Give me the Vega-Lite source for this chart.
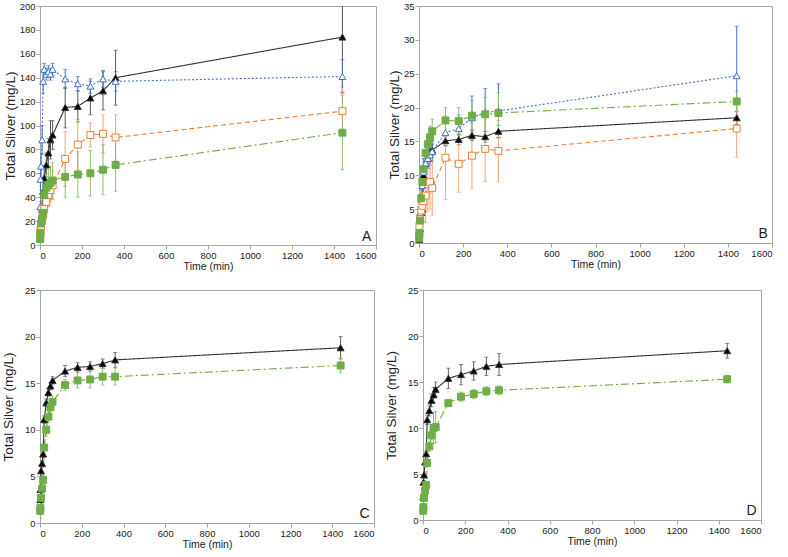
{
"$schema": "https://vega.github.io/schema/vega-lite/v6.json",
"padding": {"left": 0, "top": 0, "right": 0, "bottom": 0},
"background": "white",
"datasets": {
"d": [
{"p":"A","s":"k","t":1,"v":6,"e":3},{"p":"A","s":"k","t":2,"v":12,"e":4},{"p":"A","s":"k","t":5,"v":20,"e":5},{"p":"A","s":"k","t":10,"v":30,"e":6},{"p":"A","s":"k","t":15,"v":45,"e":8},{"p":"A","s":"k","t":20,"v":56,"e":10},{"p":"A","s":"k","t":30,"v":67,"e":10},{"p":"A","s":"k","t":40,"v":77,"e":12},{"p":"A","s":"k","t":50,"v":88,"e":16},{"p":"A","s":"k","t":60,"v":92,"e":12},{"p":"A","s":"k","t":120,"v":115,"e":17},{"p":"A","s":"k","t":180,"v":116,"e":13},{"p":"A","s":"k","t":240,"v":123,"e":14},{"p":"A","s":"k","t":300,"v":129,"e":16},{"p":"A","s":"k","t":360,"v":140,"e":23},{"p":"A","s":"k","t":1440,"v":174,"e":46},
{"p":"A","s":"b","t":1,"v":32,"e":8},{"p":"A","s":"b","t":2,"v":55,"e":10},{"p":"A","s":"b","t":5,"v":66,"e":10},{"p":"A","s":"b","t":10,"v":88,"e":12},{"p":"A","s":"b","t":15,"v":137,"e":10},{"p":"A","s":"b","t":20,"v":147,"e":5},{"p":"A","s":"b","t":30,"v":143,"e":5},{"p":"A","s":"b","t":40,"v":145,"e":5},{"p":"A","s":"b","t":50,"v":143,"e":5},{"p":"A","s":"b","t":60,"v":147,"e":5},{"p":"A","s":"b","t":120,"v":139,"e":8},{"p":"A","s":"b","t":180,"v":135,"e":6},{"p":"A","s":"b","t":240,"v":133,"e":6},{"p":"A","s":"b","t":300,"v":139,"e":7},{"p":"A","s":"b","t":360,"v":137,"e":8},{"p":"A","s":"b","t":1440,"v":141,"e":14},
{"p":"A","s":"o","t":1,"v":8,"e":4},{"p":"A","s":"o","t":2,"v":12,"e":5},{"p":"A","s":"o","t":5,"v":16,"e":6},{"p":"A","s":"o","t":10,"v":20,"e":8},{"p":"A","s":"o","t":15,"v":25,"e":8},{"p":"A","s":"o","t":20,"v":30,"e":8},{"p":"A","s":"o","t":30,"v":36,"e":9},{"p":"A","s":"o","t":40,"v":42,"e":10},{"p":"A","s":"o","t":50,"v":46,"e":10},{"p":"A","s":"o","t":60,"v":50,"e":12},{"p":"A","s":"o","t":120,"v":72,"e":23},{"p":"A","s":"o","t":180,"v":84,"e":21},{"p":"A","s":"o","t":240,"v":92,"e":10},{"p":"A","s":"o","t":300,"v":93,"e":16},{"p":"A","s":"o","t":360,"v":90,"e":19},{"p":"A","s":"o","t":1440,"v":112,"e":20},
{"p":"A","s":"g","t":1,"v":5,"e":2},{"p":"A","s":"g","t":2,"v":10,"e":3},{"p":"A","s":"g","t":5,"v":18,"e":4},{"p":"A","s":"g","t":10,"v":22,"e":5},{"p":"A","s":"g","t":15,"v":27,"e":6},{"p":"A","s":"g","t":20,"v":42,"e":10},{"p":"A","s":"g","t":30,"v":48,"e":12},{"p":"A","s":"g","t":40,"v":50,"e":13},{"p":"A","s":"g","t":50,"v":52,"e":14},{"p":"A","s":"g","t":60,"v":54,"e":15},{"p":"A","s":"g","t":120,"v":57,"e":17},{"p":"A","s":"g","t":180,"v":59,"e":19},{"p":"A","s":"g","t":240,"v":60,"e":19},{"p":"A","s":"g","t":300,"v":63,"e":21},{"p":"A","s":"g","t":360,"v":67,"e":22},{"p":"A","s":"g","t":1440,"v":94,"e":31},
{"p":"B","s":"k","t":1,"v":0.5,"e":0.2},{"p":"B","s":"k","t":2,"v":1.2,"e":0.3},{"p":"B","s":"k","t":5,"v":2.1,"e":0.5},{"p":"B","s":"k","t":10,"v":4.5,"e":0.5},{"p":"B","s":"k","t":15,"v":5.0,"e":0.5},{"p":"B","s":"k","t":20,"v":10.0,"e":0.6},{"p":"B","s":"k","t":30,"v":11.7,"e":0.7},{"p":"B","s":"k","t":40,"v":12.5,"e":0.7},{"p":"B","s":"k","t":50,"v":13.5,"e":0.8},{"p":"B","s":"k","t":60,"v":13.7,"e":0.8},{"p":"B","s":"k","t":120,"v":15.1,"e":0.7},{"p":"B","s":"k","t":180,"v":15.3,"e":0.8},{"p":"B","s":"k","t":240,"v":15.9,"e":0.8},{"p":"B","s":"k","t":300,"v":15.7,"e":0.8},{"p":"B","s":"k","t":360,"v":16.5,"e":0.9},{"p":"B","s":"k","t":1440,"v":18.5,"e":1.0},
{"p":"B","s":"b","t":1,"v":1.2,"e":0.5},{"p":"B","s":"b","t":2,"v":2.5,"e":1},{"p":"B","s":"b","t":5,"v":4.5,"e":1.5},{"p":"B","s":"b","t":10,"v":6.5,"e":1.5},{"p":"B","s":"b","t":15,"v":8.5,"e":2},{"p":"B","s":"b","t":20,"v":10.5,"e":2},{"p":"B","s":"b","t":30,"v":11.8,"e":1.5},{"p":"B","s":"b","t":40,"v":12.5,"e":1.5},{"p":"B","s":"b","t":50,"v":13.0,"e":1.5},{"p":"B","s":"b","t":60,"v":13.5,"e":1.5},{"p":"B","s":"b","t":120,"v":16.3,"e":2},{"p":"B","s":"b","t":180,"v":16.9,"e":2},{"p":"B","s":"b","t":240,"v":18.5,"e":3.2},{"p":"B","s":"b","t":300,"v":19.3,"e":3.5},{"p":"B","s":"b","t":360,"v":19.5,"e":4},{"p":"B","s":"b","t":1440,"v":24.7,"e":7.3},
{"p":"B","s":"o","t":1,"v":1.2,"e":1},{"p":"B","s":"o","t":2,"v":2.5,"e":1.5},{"p":"B","s":"o","t":5,"v":3.5,"e":2},{"p":"B","s":"o","t":10,"v":4.8,"e":3},{"p":"B","s":"o","t":15,"v":5.5,"e":3},{"p":"B","s":"o","t":20,"v":6.2,"e":3},{"p":"B","s":"o","t":30,"v":7.0,"e":4},{"p":"B","s":"o","t":40,"v":8.7,"e":4},{"p":"B","s":"o","t":50,"v":9.0,"e":4},{"p":"B","s":"o","t":60,"v":8.1,"e":4},{"p":"B","s":"o","t":120,"v":12.6,"e":6.2},{"p":"B","s":"o","t":180,"v":11.7,"e":4.2},{"p":"B","s":"o","t":240,"v":12.9,"e":4.9},{"p":"B","s":"o","t":300,"v":13.9,"e":4.8},{"p":"B","s":"o","t":360,"v":13.6,"e":4.5},{"p":"B","s":"o","t":1440,"v":16.9,"e":4.2},
{"p":"B","s":"g","t":1,"v":0.7,"e":0.3},{"p":"B","s":"g","t":2,"v":1.5,"e":0.5},{"p":"B","s":"g","t":5,"v":3.3,"e":0.5},{"p":"B","s":"g","t":10,"v":6.6,"e":0.8},{"p":"B","s":"g","t":15,"v":9.0,"e":1},{"p":"B","s":"g","t":20,"v":10.9,"e":1},{"p":"B","s":"g","t":30,"v":13.3,"e":1.2},{"p":"B","s":"g","t":40,"v":14.6,"e":1.5},{"p":"B","s":"g","t":50,"v":15.6,"e":1.7},{"p":"B","s":"g","t":60,"v":16.5,"e":1.8},{"p":"B","s":"g","t":120,"v":18.1,"e":1.9},{"p":"B","s":"g","t":180,"v":18.0,"e":2.0},{"p":"B","s":"g","t":240,"v":18.8,"e":2.2},{"p":"B","s":"g","t":300,"v":19.0,"e":2.5},{"p":"B","s":"g","t":360,"v":19.2,"e":3},{"p":"B","s":"g","t":1440,"v":20.9,"e":1.5},
{"p":"C","s":"k","t":1,"v":2.5,"e":0.2},{"p":"C","s":"k","t":2,"v":3.6,"e":0.2},{"p":"C","s":"k","t":5,"v":5.6,"e":0.3},{"p":"C","s":"k","t":10,"v":6.4,"e":0.3},{"p":"C","s":"k","t":15,"v":7.4,"e":0.3},{"p":"C","s":"k","t":20,"v":11.1,"e":0.4},{"p":"C","s":"k","t":30,"v":12.9,"e":0.4},{"p":"C","s":"k","t":40,"v":14.0,"e":0.4},{"p":"C","s":"k","t":50,"v":14.7,"e":0.4},{"p":"C","s":"k","t":60,"v":15.3,"e":0.4},{"p":"C","s":"k","t":120,"v":16.3,"e":0.6},{"p":"C","s":"k","t":180,"v":16.7,"e":0.5},{"p":"C","s":"k","t":240,"v":16.8,"e":0.5},{"p":"C","s":"k","t":300,"v":17.1,"e":0.5},{"p":"C","s":"k","t":360,"v":17.5,"e":0.8},{"p":"C","s":"k","t":1440,"v":18.8,"e":1.2},
{"p":"C","s":"g","t":1,"v":1.3,"e":0.8},{"p":"C","s":"g","t":2,"v":1.6,"e":0.5},{"p":"C","s":"g","t":5,"v":2.7,"e":0.5},{"p":"C","s":"g","t":10,"v":3.7,"e":0.5},{"p":"C","s":"g","t":15,"v":4.6,"e":0.5},{"p":"C","s":"g","t":20,"v":8.1,"e":0.6},{"p":"C","s":"g","t":30,"v":10.0,"e":0.7},{"p":"C","s":"g","t":40,"v":11.4,"e":0.6},{"p":"C","s":"g","t":50,"v":12.4,"e":0.6},{"p":"C","s":"g","t":60,"v":13.0,"e":0.6},{"p":"C","s":"g","t":120,"v":14.8,"e":0.6},{"p":"C","s":"g","t":180,"v":15.3,"e":0.8},{"p":"C","s":"g","t":240,"v":15.4,"e":0.9},{"p":"C","s":"g","t":300,"v":15.7,"e":0.9},{"p":"C","s":"g","t":360,"v":15.7,"e":0.9},{"p":"C","s":"g","t":1440,"v":16.9,"e":0.8},
{"p":"D","s":"k","t":1,"v":2.5,"e":0.2},{"p":"D","s":"k","t":2,"v":4.1,"e":0.2},{"p":"D","s":"k","t":5,"v":4.9,"e":0.3},{"p":"D","s":"k","t":10,"v":6.3,"e":0.3},{"p":"D","s":"k","t":15,"v":7.2,"e":0.3},{"p":"D","s":"k","t":20,"v":10.9,"e":0.5},{"p":"D","s":"k","t":30,"v":11.9,"e":0.6},{"p":"D","s":"k","t":40,"v":13.0,"e":0.7},{"p":"D","s":"k","t":50,"v":13.6,"e":0.8},{"p":"D","s":"k","t":60,"v":14.2,"e":0.8},{"p":"D","s":"k","t":120,"v":15.4,"e":1.1},{"p":"D","s":"k","t":180,"v":15.8,"e":1.1},{"p":"D","s":"k","t":240,"v":16.2,"e":1.0},{"p":"D","s":"k","t":300,"v":16.7,"e":1.0},{"p":"D","s":"k","t":360,"v":16.9,"e":1.2},{"p":"D","s":"k","t":1440,"v":18.4,"e":0.8},
{"p":"D","s":"g","t":1,"v":1.0,"e":0.3},{"p":"D","s":"g","t":2,"v":1.4,"e":0.3},{"p":"D","s":"g","t":5,"v":2.4,"e":0.3},{"p":"D","s":"g","t":10,"v":3.2,"e":0.3},{"p":"D","s":"g","t":15,"v":3.8,"e":0.3},{"p":"D","s":"g","t":20,"v":6.2,"e":0.4},{"p":"D","s":"g","t":30,"v":8.0,"e":0.5},{"p":"D","s":"g","t":40,"v":9.2,"e":0.5},{"p":"D","s":"g","t":50,"v":10.0,"e":1.7},{"p":"D","s":"g","t":60,"v":10.1,"e":1.7},{"p":"D","s":"g","t":120,"v":12.7,"e":0.3},{"p":"D","s":"g","t":180,"v":13.4,"e":0.5},{"p":"D","s":"g","t":240,"v":13.7,"e":0.5},{"p":"D","s":"g","t":300,"v":14.0,"e":0.5},{"p":"D","s":"g","t":360,"v":14.1,"e":0.5},{"p":"D","s":"g","t":1440,"v":15.3,"e":0.4}
],
"lab": [
{"p":"A","t":1555,"v":3.3,"L":"A"},{"p":"B","t":1560,"v":0.7,"L":"B"},{"p":"C","t":1555,"v":0.55,"L":"C"},{"p":"D","t":1555,"v":0.55,"L":"D"}
]
},
"config": {
"font": "Liberation Sans",
"view": {"stroke": "#a6a6a6", "strokeWidth": 1},
"axis": {"grid": false, "domainColor": "#a6a6a6", "tickColor": "#a6a6a6", "tickSize": 4, "labelColor": "#222222", "titleColor": "#222222", "labelFont": "Liberation Sans", "titleFont": "Liberation Sans", "labelFontSize": 9.5, "titleFontWeight": "normal", "labelPadding": 1},
"axisX": {"titlePadding": 2, "titleFontSize": 10.5, "format": "d"},
"axisY": {"titlePadding": 2, "titleFontSize": 13.5}
},
"vconcat": [
{"hconcat": [
{"width": 336, "height": 239, "layer": [
{"data": {"name": "d"}, "transform": [{"filter": "datum.p == 'A'"}], "mark": {"type": "errorbar", "ticks": {"size": 4}, "clip": true, "thickness": 1},
 "encoding": {"x": {"field": "t", "type": "quantitative", "scale": {"domain": [0,1600], "nice": false}, "axis": {"values": [0,200,400,600,800,1000,1200,1400,1600], "title": "Time (min)", "format": "d"}},
 "y": {"field": "v", "type": "quantitative", "scale": {"domain": [0,200], "nice": false}, "axis": {"values": [0,20,40,60,80,100,120,140,160,180,200], "title": "Total Silver (mg/L)", "titlePadding": 2}},
 "yError": {"field": "e"},
 "color": {"field": "s", "type": "nominal", "scale": {"domain": ["k","b","o","g"], "range": ["#595959","#4472C4","#F4A27A","#8DC06A"]}, "legend": null}}},
{"data": {"name": "d"}, "transform": [{"filter": "datum.p == 'A'"}], "mark": {"type": "line", "strokeWidth": 1.1},
 "encoding": {"x": {"field": "t", "type": "quantitative", "scale": {"domain": [0,1600], "nice": false}, "axis": {"values": [0,200,400,600,800,1000,1200,1400,1600], "title": "Time (min)", "format": "d"}},
 "y": {"field": "v", "type": "quantitative", "scale": {"domain": [0,200], "nice": false}, "axis": {"values": [0,20,40,60,80,100,120,140,160,180,200], "title": "Total Silver (mg/L)", "titlePadding": 2}},
 "detail": {"field": "s"},
 "stroke": {"field": "s", "type": "nominal", "scale": {"domain": ["k","b","o","g"], "range": ["#333333","#4472C4","#ED7D31","#70AD47"]}, "legend": null},
 "strokeDash": {"field": "s", "type": "nominal", "scale": {"domain": ["k","b","o","g"], "range": [[1,0],[2,2],[5,3],[8,3,2,3]]}, "legend": null}}},
{"data": {"name": "d"}, "transform": [{"filter": "datum.p == 'A'"}], "mark": {"type": "point", "filled": true, "size": 48, "strokeWidth": 1, "opacity": 1},
 "encoding": {"x": {"field": "t", "type": "quantitative", "scale": {"domain": [0,1600], "nice": false}, "axis": {"values": [0,200,400,600,800,1000,1200,1400,1600], "title": "Time (min)", "format": "d"}},
 "y": {"field": "v", "type": "quantitative", "scale": {"domain": [0,200], "nice": false}, "axis": {"values": [0,20,40,60,80,100,120,140,160,180,200], "title": "Total Silver (mg/L)", "titlePadding": 2}},
 "shape": {"field": "s", "type": "nominal", "scale": {"domain": ["k","b","o","g"], "range": ["triangle-up","triangle-up","square","square"]}, "legend": null},
 "fill": {"field": "s", "type": "nominal", "scale": {"domain": ["k","b","o","g"], "range": ["#000000","#ffffff","#ffffff","#70AD47"]}, "legend": null},
 "stroke": {"field": "s", "type": "nominal", "scale": {"domain": ["k","b","o","g"], "range": ["#333333","#4472C4","#ED7D31","#70AD47"]}, "legend": null}}},
{"data": {"name": "lab"}, "transform": [{"filter": "datum.p == 'A'"}], "mark": {"type": "text", "fontSize": 14, "align": "center", "baseline": "alphabetic", "color": "#222222"},
 "encoding": {"x": {"field": "t", "type": "quantitative", "scale": {"domain": [0,1600], "nice": false}, "axis": {"values": [0,200,400,600,800,1000,1200,1400,1600], "title": "Time (min)", "format": "d"}},
 "y": {"field": "v", "type": "quantitative", "scale": {"domain": [0,200], "nice": false}, "axis": {"values": [0,20,40,60,80,100,120,140,160,180,200], "title": "Total Silver (mg/L)", "titlePadding": 2}},
 "text": {"field": "L"}}}
]},
{"width": 353, "height": 237, "layer": [
{"data": {"name": "d"}, "transform": [{"filter": "datum.p == 'B'"}], "mark": {"type": "errorbar", "ticks": {"size": 4}, "clip": true, "thickness": 1},
 "encoding": {"x": {"field": "t", "type": "quantitative", "scale": {"domain": [0,1600], "nice": false}, "axis": {"values": [0,200,400,600,800,1000,1200,1400,1600], "title": "Time (min)", "format": "d"}},
 "y": {"field": "v", "type": "quantitative", "scale": {"domain": [0,35], "nice": false}, "axis": {"values": [0,5,10,15,20,25,30,35], "title": "Total Silver (mg/L)", "titlePadding": 2}},
 "yError": {"field": "e"},
 "color": {"field": "s", "type": "nominal", "scale": {"domain": ["k","b","o","g"], "range": ["#595959","#4472C4","#F4A27A","#8DC06A"]}, "legend": null}}},
{"data": {"name": "d"}, "transform": [{"filter": "datum.p == 'B'"}], "mark": {"type": "line", "strokeWidth": 1.1},
 "encoding": {"x": {"field": "t", "type": "quantitative", "scale": {"domain": [0,1600], "nice": false}, "axis": {"values": [0,200,400,600,800,1000,1200,1400,1600], "title": "Time (min)", "format": "d"}},
 "y": {"field": "v", "type": "quantitative", "scale": {"domain": [0,35], "nice": false}, "axis": {"values": [0,5,10,15,20,25,30,35], "title": "Total Silver (mg/L)", "titlePadding": 2}},
 "detail": {"field": "s"},
 "stroke": {"field": "s", "type": "nominal", "scale": {"domain": ["k","b","o","g"], "range": ["#333333","#4472C4","#ED7D31","#70AD47"]}, "legend": null},
 "strokeDash": {"field": "s", "type": "nominal", "scale": {"domain": ["k","b","o","g"], "range": [[1,0],[2,2],[5,3],[8,3,2,3]]}, "legend": null}}},
{"data": {"name": "d"}, "transform": [{"filter": "datum.p == 'B'"}], "mark": {"type": "point", "filled": true, "size": 48, "strokeWidth": 1, "opacity": 1},
 "encoding": {"x": {"field": "t", "type": "quantitative", "scale": {"domain": [0,1600], "nice": false}, "axis": {"values": [0,200,400,600,800,1000,1200,1400,1600], "title": "Time (min)", "format": "d"}},
 "y": {"field": "v", "type": "quantitative", "scale": {"domain": [0,35], "nice": false}, "axis": {"values": [0,5,10,15,20,25,30,35], "title": "Total Silver (mg/L)", "titlePadding": 2}},
 "shape": {"field": "s", "type": "nominal", "scale": {"domain": ["k","b","o","g"], "range": ["triangle-up","triangle-up","square","square"]}, "legend": null},
 "fill": {"field": "s", "type": "nominal", "scale": {"domain": ["k","b","o","g"], "range": ["#000000","#ffffff","#ffffff","#70AD47"]}, "legend": null},
 "stroke": {"field": "s", "type": "nominal", "scale": {"domain": ["k","b","o","g"], "range": ["#333333","#4472C4","#ED7D31","#70AD47"]}, "legend": null}}},
{"data": {"name": "lab"}, "transform": [{"filter": "datum.p == 'B'"}], "mark": {"type": "text", "fontSize": 14, "align": "center", "baseline": "alphabetic", "color": "#222222"},
 "encoding": {"x": {"field": "t", "type": "quantitative", "scale": {"domain": [0,1600], "nice": false}, "axis": {"values": [0,200,400,600,800,1000,1200,1400,1600], "title": "Time (min)", "format": "d"}},
 "y": {"field": "v", "type": "quantitative", "scale": {"domain": [0,35], "nice": false}, "axis": {"values": [0,5,10,15,20,25,30,35], "title": "Total Silver (mg/L)", "titlePadding": 2}},
 "text": {"field": "L"}}}
]}
], "spacing": 9},
{"hconcat": [
{"width": 334, "height": 233, "layer": [
{"data": {"name": "d"}, "transform": [{"filter": "datum.p == 'C'"}], "mark": {"type": "errorbar", "ticks": {"size": 4}, "clip": true, "thickness": 1},
 "encoding": {"x": {"field": "t", "type": "quantitative", "scale": {"domain": [0,1600], "nice": false}, "axis": {"values": [0,200,400,600,800,1000,1200,1400,1600], "title": "Time (min)", "format": "d"}},
 "y": {"field": "v", "type": "quantitative", "scale": {"domain": [0,25], "nice": false}, "axis": {"values": [0,5,10,15,20,25], "title": "Total Silver (mg/L)", "titlePadding": 9}},
 "yError": {"field": "e"},
 "color": {"field": "s", "type": "nominal", "scale": {"domain": ["k","b","o","g"], "range": ["#595959","#4472C4","#F4A27A","#8DC06A"]}, "legend": null}}},
{"data": {"name": "d"}, "transform": [{"filter": "datum.p == 'C'"}], "mark": {"type": "line", "strokeWidth": 1.1},
 "encoding": {"x": {"field": "t", "type": "quantitative", "scale": {"domain": [0,1600], "nice": false}, "axis": {"values": [0,200,400,600,800,1000,1200,1400,1600], "title": "Time (min)", "format": "d"}},
 "y": {"field": "v", "type": "quantitative", "scale": {"domain": [0,25], "nice": false}, "axis": {"values": [0,5,10,15,20,25], "title": "Total Silver (mg/L)", "titlePadding": 9}},
 "detail": {"field": "s"},
 "stroke": {"field": "s", "type": "nominal", "scale": {"domain": ["k","b","o","g"], "range": ["#333333","#4472C4","#ED7D31","#70AD47"]}, "legend": null},
 "strokeDash": {"field": "s", "type": "nominal", "scale": {"domain": ["k","b","o","g"], "range": [[1,0],[2,2],[5,3],[8,3,2,3]]}, "legend": null}}},
{"data": {"name": "d"}, "transform": [{"filter": "datum.p == 'C'"}], "mark": {"type": "point", "filled": true, "size": 48, "strokeWidth": 1, "opacity": 1},
 "encoding": {"x": {"field": "t", "type": "quantitative", "scale": {"domain": [0,1600], "nice": false}, "axis": {"values": [0,200,400,600,800,1000,1200,1400,1600], "title": "Time (min)", "format": "d"}},
 "y": {"field": "v", "type": "quantitative", "scale": {"domain": [0,25], "nice": false}, "axis": {"values": [0,5,10,15,20,25], "title": "Total Silver (mg/L)", "titlePadding": 9}},
 "shape": {"field": "s", "type": "nominal", "scale": {"domain": ["k","b","o","g"], "range": ["triangle-up","triangle-up","square","square"]}, "legend": null},
 "fill": {"field": "s", "type": "nominal", "scale": {"domain": ["k","b","o","g"], "range": ["#000000","#ffffff","#ffffff","#70AD47"]}, "legend": null},
 "stroke": {"field": "s", "type": "nominal", "scale": {"domain": ["k","b","o","g"], "range": ["#333333","#4472C4","#ED7D31","#70AD47"]}, "legend": null}}},
{"data": {"name": "lab"}, "transform": [{"filter": "datum.p == 'C'"}], "mark": {"type": "text", "fontSize": 14, "align": "center", "baseline": "alphabetic", "color": "#222222"},
 "encoding": {"x": {"field": "t", "type": "quantitative", "scale": {"domain": [0,1600], "nice": false}, "axis": {"values": [0,200,400,600,800,1000,1200,1400,1600], "title": "Time (min)", "format": "d"}},
 "y": {"field": "v", "type": "quantitative", "scale": {"domain": [0,25], "nice": false}, "axis": {"values": [0,5,10,15,20,25], "title": "Total Silver (mg/L)", "titlePadding": 9}},
 "text": {"field": "L"}}}
]},
{"width": 338, "height": 230, "layer": [
{"data": {"name": "d"}, "transform": [{"filter": "datum.p == 'D'"}], "mark": {"type": "errorbar", "ticks": {"size": 4}, "clip": true, "thickness": 1},
 "encoding": {"x": {"field": "t", "type": "quantitative", "scale": {"domain": [0,1600], "nice": false}, "axis": {"values": [0,200,400,600,800,1000,1200,1400,1600], "title": "Time (min)", "format": "d"}},
 "y": {"field": "v", "type": "quantitative", "scale": {"domain": [0,25], "nice": false}, "axis": {"values": [0,5,10,15,20,25], "title": "Total Silver (mg/L)", "titlePadding": 9}},
 "yError": {"field": "e"},
 "color": {"field": "s", "type": "nominal", "scale": {"domain": ["k","b","o","g"], "range": ["#595959","#4472C4","#F4A27A","#8DC06A"]}, "legend": null}}},
{"data": {"name": "d"}, "transform": [{"filter": "datum.p == 'D'"}], "mark": {"type": "line", "strokeWidth": 1.1},
 "encoding": {"x": {"field": "t", "type": "quantitative", "scale": {"domain": [0,1600], "nice": false}, "axis": {"values": [0,200,400,600,800,1000,1200,1400,1600], "title": "Time (min)", "format": "d"}},
 "y": {"field": "v", "type": "quantitative", "scale": {"domain": [0,25], "nice": false}, "axis": {"values": [0,5,10,15,20,25], "title": "Total Silver (mg/L)", "titlePadding": 9}},
 "detail": {"field": "s"},
 "stroke": {"field": "s", "type": "nominal", "scale": {"domain": ["k","b","o","g"], "range": ["#333333","#4472C4","#ED7D31","#70AD47"]}, "legend": null},
 "strokeDash": {"field": "s", "type": "nominal", "scale": {"domain": ["k","b","o","g"], "range": [[1,0],[2,2],[5,3],[8,3,2,3]]}, "legend": null}}},
{"data": {"name": "d"}, "transform": [{"filter": "datum.p == 'D'"}], "mark": {"type": "point", "filled": true, "size": 48, "strokeWidth": 1, "opacity": 1},
 "encoding": {"x": {"field": "t", "type": "quantitative", "scale": {"domain": [0,1600], "nice": false}, "axis": {"values": [0,200,400,600,800,1000,1200,1400,1600], "title": "Time (min)", "format": "d"}},
 "y": {"field": "v", "type": "quantitative", "scale": {"domain": [0,25], "nice": false}, "axis": {"values": [0,5,10,15,20,25], "title": "Total Silver (mg/L)", "titlePadding": 9}},
 "shape": {"field": "s", "type": "nominal", "scale": {"domain": ["k","b","o","g"], "range": ["triangle-up","triangle-up","square","square"]}, "legend": null},
 "fill": {"field": "s", "type": "nominal", "scale": {"domain": ["k","b","o","g"], "range": ["#000000","#ffffff","#ffffff","#70AD47"]}, "legend": null},
 "stroke": {"field": "s", "type": "nominal", "scale": {"domain": ["k","b","o","g"], "range": ["#333333","#4472C4","#ED7D31","#70AD47"]}, "legend": null}}},
{"data": {"name": "lab"}, "transform": [{"filter": "datum.p == 'D'"}], "mark": {"type": "text", "fontSize": 14, "align": "center", "baseline": "alphabetic", "color": "#222222"},
 "encoding": {"x": {"field": "t", "type": "quantitative", "scale": {"domain": [0,1600], "nice": false}, "axis": {"values": [0,200,400,600,800,1000,1200,1400,1600], "title": "Time (min)", "format": "d"}},
 "y": {"field": "v", "type": "quantitative", "scale": {"domain": [0,25], "nice": false}, "axis": {"values": [0,5,10,15,20,25], "title": "Total Silver (mg/L)", "titlePadding": 9}},
 "text": {"field": "L"}}}
]}
], "spacing": 8}
], "spacing": 11
}
